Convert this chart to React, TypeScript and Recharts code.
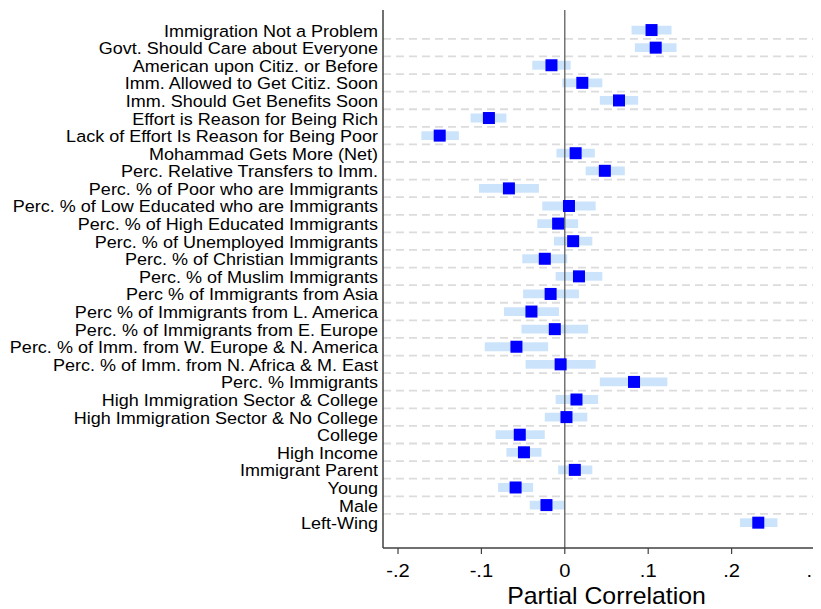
import {
  ScatterChart,
  Scatter,
  XAxis,
  YAxis,
  ReferenceArea,
  ReferenceLine,
} from "recharts";

// covariates, top to bottom
const ROW_LABELS = [
  "Immigration Not a Problem",
  "Govt. Should Care about Everyone",
  "American upon Citiz. or Before",
  "Imm. Allowed to Get Citiz. Soon",
  "Imm. Should Get Benefits Soon",
  "Effort is Reason for Being Rich",
  "Lack of Effort Is Reason for Being Poor",
  "Mohammad Gets More (Net)",
  "Perc. Relative Transfers to Imm.",
  "Perc. % of Poor who are Immigrants",
  "Perc. % of Low Educated who are Immigrants",
  "Perc. % of High Educated Immigrants",
  "Perc. % of Unemployed Immigrants",
  "Perc. % of Christian Immigrants",
  "Perc. % of Muslim Immigrants",
  "Perc % of Immigrants from Asia",
  "Perc % of Immigrants from L. America",
  "Perc. % of Immigrants from E. Europe",
  "Perc. % of Imm. from W. Europe & N. America",
  "Perc. % of Imm. from N. Africa & M. East",
  "Perc. % Immigrants",
  "High Immigration Sector & College",
  "High Immigration Sector & No College",
  "College",
  "High Income",
  "Immigrant Parent",
  "Young",
  "Male",
  "Left-Wing",
];

const ESTIMATES = [
  0.104, 0.109, -0.016, 0.021, 0.065, -0.091, -0.15, 0.013, 0.048, -0.067,
  0.005, -0.008, 0.01, -0.024, 0.017, -0.017, -0.04, -0.012, -0.058, -0.005,
  0.083, 0.014, 0.002, -0.054, -0.049, 0.012, -0.059, -0.022, 0.232,
];

const CI_LOW = [
  0.08, 0.084, -0.039, -0.003, 0.042, -0.113, -0.172, -0.01, 0.025, -0.103,
  -0.027, -0.033, -0.013, -0.051, -0.011, -0.05, -0.073, -0.052, -0.096,
  -0.047, 0.042, -0.011, -0.024, -0.083, -0.07, -0.008, -0.08, -0.042, 0.21,
];

const CI_HIGH = [
  0.128, 0.134, 0.007, 0.045, 0.088, -0.07, -0.127, 0.036, 0.072, -0.031,
  0.037, 0.016, 0.033, 0.003, 0.045, 0.017, -0.007, 0.028, -0.02, 0.037,
  0.123, 0.04, 0.027, -0.024, -0.028, 0.033, -0.038, 0.0, 0.255,
];

const X_TICKS = [-0.2, -0.1, 0, 0.1, 0.2, 0.3];

const points = ROW_LABELS.map((name, i) => ({
  name,
  row: i + 1,
  est: ESTIMATES[i],
  lo: CI_LOW[i],
  hi: CI_HIGH[i],
}));

const rowTicks = points.map((p) => p.row);
const separators = points.slice(0, -1).map((p) => p.row + 0.5);

const FONT = "'Liberation Sans', Arial, Helvetica, sans-serif";
const AXIS_COLOR = "#404040";

const fmtTick = (v: number) => {
  if (v === 0) return "0";
  return v.toFixed(1).replace("0.", ".");
};

function RowLabel(props: any) {
  const { x, y, payload } = props;
  const label = ROW_LABELS[payload.value - 1] ?? "";
  return (
    <g transform={`translate(${x},${y}) scale(1.06,1)`}>
      <text x={0} y={0} dy={6.5} textAnchor="end" fontSize={17} fontFamily={FONT} fill="#000">
        {label}
      </text>
    </g>
  );
}

function XTick(props: any) {
  const { x, y, payload } = props;
  return (
    <g transform={`translate(${x},${y}) scale(1.12,1)`}>
      <text x={0} y={0} dy={23} textAnchor="middle" fontSize={18} fontFamily={FONT} fill="#000">
        {fmtTick(payload.value)}
      </text>
    </g>
  );
}

function XTitle(props: any) {
  const vb = props.viewBox || {};
  const cx = vb.x + vb.width / 2;
  const by = vb.y + 56;
  return (
    <g transform={`translate(${cx},${by}) scale(1.08,1)`}>
      <text x={0} y={0} textAnchor="middle" fontSize={23} fontFamily={FONT} fill="#000">
        Partial Correlation
      </text>
    </g>
  );
}

// draws the point estimate as a filled square
const squareMarker = (props: any) => {
  const { cx, cy } = props;
  return <rect x={cx - 6} y={cy - 6} width={12} height={12} fill="#0000ff" />;
};

export default function App() {
  // the plot runs past the right edge, so clip it there
  return (
    <div style={{ width: 813, overflow: "hidden" }}>
      <ScatterChart
        width={830}
        height={601}
        margin={{ top: 2, right: 8, bottom: 1, left: 0 }}
        style={{ fontFamily: FONT }}
      >
        <XAxis
          type="number"
          dataKey="est"
          domain={[-0.218, 0.318]}
          ticks={X_TICKS}
          interval={0}
          allowDataOverflow
          height={60}
          tickSize={6}
          tickMargin={0}
          stroke={AXIS_COLOR}
          axisLine={{ stroke: AXIS_COLOR, strokeWidth: 1.5 }}
          tickLine={{ stroke: AXIS_COLOR, strokeWidth: 1.2 }}
          tick={<XTick />}
          label={{ content: <XTitle /> }}
        />
        <YAxis
          type="number"
          dataKey="row"
          domain={[-0.14, 30.44]}
          reversed
          allowDataOverflow
          ticks={rowTicks}
          interval={0}
          width={375}
          tickSize={0}
          tickMargin={5}
          tickLine={false}
          axisLine={{ stroke: AXIS_COLOR, strokeWidth: 1.5 }}
          tick={<RowLabel />}
        />
        {separators.map((y) => (
          <ReferenceLine
            key={`sep-${y}`}
            y={y}
            stroke="#dcdcdc"
            strokeWidth={1.8}
            strokeDasharray="8 5"
          />
        ))}
        {points.map((p) => (
          <ReferenceArea
            key={`ci-${p.row}`}
            x1={p.lo}
            x2={p.hi}
            y1={p.row - 0.25}
            y2={p.row + 0.25}
            fill="#cce4fb"
            fillOpacity={1}
            stroke="none"
          />
        ))}
        <ReferenceLine x={0} stroke="#505050" strokeWidth={1.2} />
        <Scatter
          data={points}
          shape={squareMarker}
          isAnimationActive={false}
        />
      </ScatterChart>
    </div>
  );
}
